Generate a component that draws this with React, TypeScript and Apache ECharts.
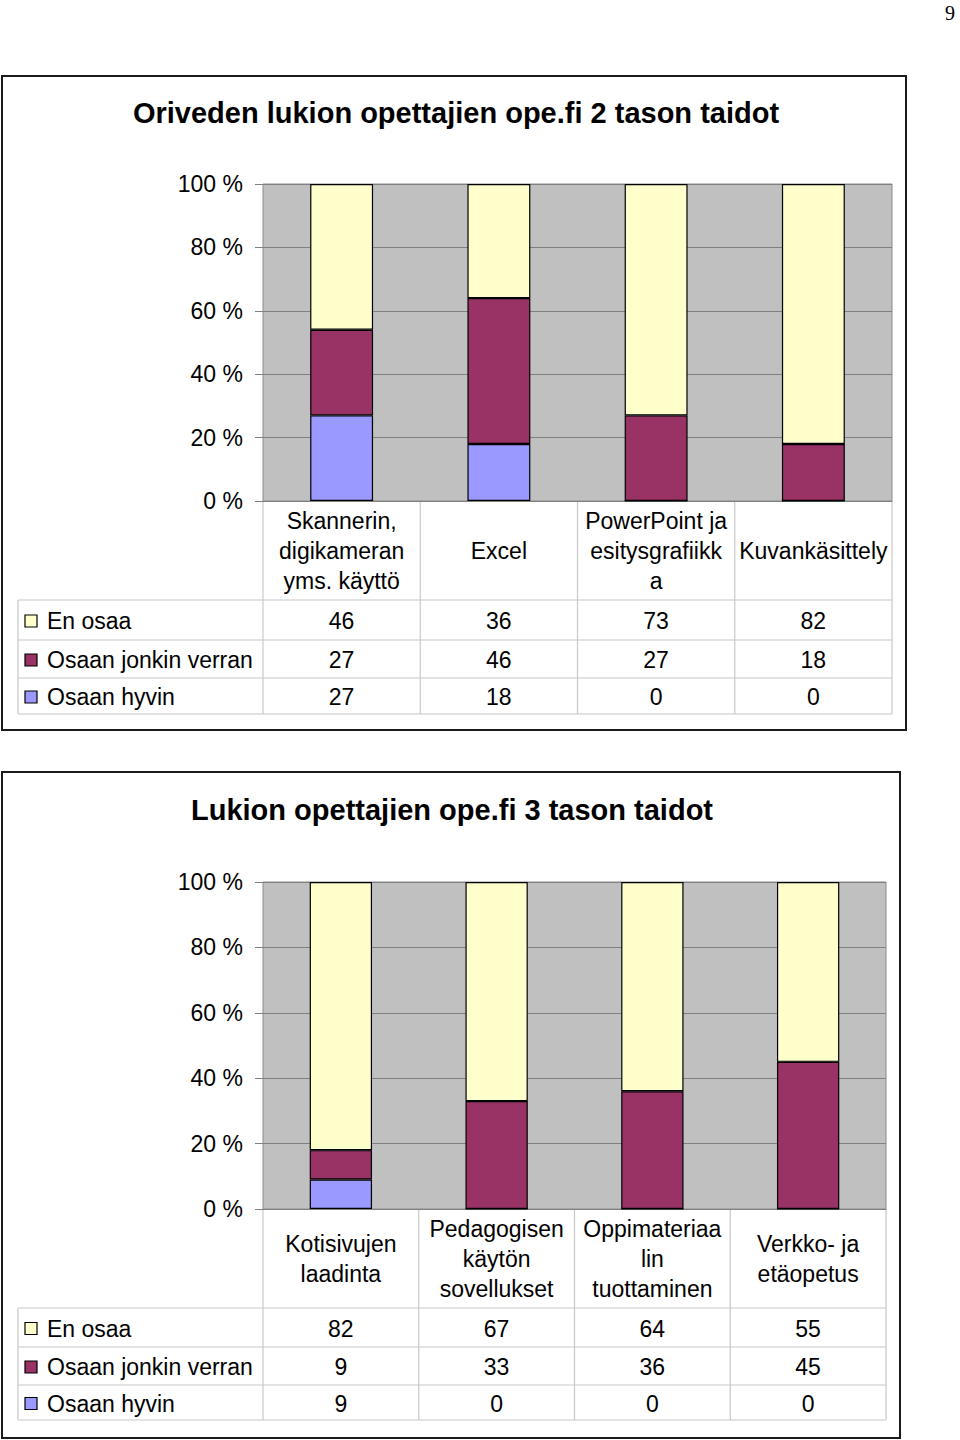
import React, { useEffect, useRef } from "react";
import * as echarts from "echarts";

const FONT = "'Liberation Sans', Arial, Helvetica, sans-serif";

const SERIES_NAMES = ["En osaa", "Osaan jonkin verran", "Osaan hyvin"];
const SERIES_COLORS = ["#FFFFCC", "#993366", "#9999FF"];

// Chart 1
const TITLE_1 = "Oriveden lukion opettajien ope.fi 2 tason taidot";
const CATEGORIES_1 = [
  "Skannerin,\ndigikameran\nyms. käyttö",
  "Excel",
  "PowerPoint ja\nesitysgrafiikk\na",
  "Kuvankäsittely",
];
const EN_OSAA_1 = [46, 36, 73, 82];
const OSAAN_JONKIN_1 = [27, 46, 27, 18];
const OSAAN_HYVIN_1 = [27, 18, 0, 0];

// Chart 2
const TITLE_2 = "Lukion opettajien ope.fi 3 tason taidot";
const CATEGORIES_2 = [
  "Kotisivujen\nlaadinta",
  "Pedagogisen\nkäytön\nsovellukset",
  "Oppimateriaa\nlin\ntuottaminen",
  "Verkko- ja\netäopetus",
];
const EN_OSAA_2 = [82, 67, 64, 55];
const OSAAN_JONKIN_2 = [9, 33, 36, 45];
const OSAAN_HYVIN_2 = [9, 0, 0, 0];

const CHARTS = [
  {
    title: TITLE_1,
    categories: CATEGORIES_1,
    rows: [EN_OSAA_1, OSAAN_JONKIN_1, OSAAN_HYVIN_1],
    grid: { left: 263, top: 184, width: 629, height: 317 },
    box: { x: 2, y: 76, width: 904, height: 654 },
    titlePos: { x: 456, y: 113 },
    rowLines: [600, 640, 678, 714],
  },
  {
    title: TITLE_2,
    categories: CATEGORIES_2,
    rows: [EN_OSAA_2, OSAAN_JONKIN_2, OSAAN_HYVIN_2],
    grid: { left: 263, top: 882, width: 623, height: 327 },
    box: { x: 2, y: 772, width: 898, height: 666 },
    titlePos: { x: 452, y: 810 },
    rowLines: [1308, 1347, 1385, 1420],
  },
];

const TABLE_LEFT = 18;

export default function App() {
  const ref = useRef<HTMLDivElement>(null);

  useEffect(() => {
    if (!ref.current) return;
    const chart = echarts.init(ref.current, null, { renderer: "svg" });

    const grid: any[] = [];
    const xAxis: any[] = [];
    const yAxis: any[] = [];
    const series: any[] = [];

    CHARTS.forEach((c, g) => {
      grid.push({
        ...c.grid,
        show: true,
        backgroundColor: "#C0C0C0",
        borderColor: "#8C8C8C",
        borderWidth: 1,
      });
      xAxis.push({
        type: "category",
        gridIndex: g,
        data: c.categories,
        axisLine: { show: true, lineStyle: { color: "#808080", width: 1 } },
        axisTick: { show: false },
        splitLine: { show: false },
        axisLabel: {
          interval: 0,
          fontSize: 23,
          lineHeight: 30,
          color: "#000",
          fontFamily: FONT,
          verticalAlign: "middle",
          align: "center",
          margin: 50,
        },
      });
      yAxis.push({
        type: "value",
        gridIndex: g,
        min: 0,
        max: 100,
        interval: 20,
        axisLine: { show: false },
        axisTick: { show: true, length: 8, lineStyle: { color: "#808080" } },
        splitLine: { show: true, lineStyle: { color: "#808080", width: 1 } },
        axisLabel: {
          formatter: "{value} %",
          fontSize: 23,
          color: "#000",
          fontFamily: FONT,
          margin: 20,
        },
      });
      // stack from bottom: Osaan hyvin, Osaan jonkin verran, En osaa
      [2, 1, 0].forEach((r) => {
        series.push({
          type: "bar",
          name: SERIES_NAMES[r],
          xAxisIndex: g,
          yAxisIndex: g,
          stack: "s" + g,
          data: c.rows[r],
          barWidth: "40%",
          itemStyle: {
            color: SERIES_COLORS[r],
            borderColor: "#000",
            borderWidth: 1.2,
          },
        });
      });
    });

    chart.setOption({ animation: false, grid, xAxis, yAxis, series });

    const graphics: any[] = [];
    graphics.push({
      type: "text",
      x: 950,
      y: 13,
      style: {
        text: "9",
        fontSize: 20,
        fontFamily: "'Liberation Serif', 'DejaVu Serif', serif",
        fill: "#000",
        align: "center",
        verticalAlign: "middle",
      },
    });

    CHARTS.forEach((c, g) => {
      graphics.push({
        type: "rect",
        shape: { ...c.box },
        style: { fill: "none", stroke: "#1a1a1a", lineWidth: 2 },
      });
      graphics.push({
        type: "text",
        x: c.titlePos.x,
        y: c.titlePos.y,
        style: {
          text: c.title,
          fontSize: 29,
          fontWeight: "bold",
          fontFamily: FONT,
          fill: "#000",
          align: "center",
          verticalAlign: "middle",
        },
      });

      const centers = c.categories.map(
        (_, i) => (chart.convertToPixel({ gridIndex: g } as any, [i, 0]) as number[])[0]
      );
      const band = centers[1] - centers[0];
      const bounds = [centers[0] - band / 2, ...centers.map((x) => x + band / 2)];
      const plotBottom = (chart.convertToPixel({ gridIndex: g } as any, [0, 0]) as number[])[1];
      const right = bounds[bounds.length - 1];
      const lastY = c.rowLines[c.rowLines.length - 1];
      const lineStyle = { stroke: "#C8C8C8", lineWidth: 1.2 };

      c.rowLines.forEach((y) => {
        graphics.push({
          type: "line",
          shape: { x1: TABLE_LEFT, y1: y, x2: right, y2: y },
          style: lineStyle,
        });
      });
      bounds.forEach((x) => {
        graphics.push({
          type: "line",
          shape: { x1: x, y1: plotBottom, x2: x, y2: lastY },
          style: lineStyle,
        });
      });
      graphics.push({
        type: "line",
        shape: { x1: TABLE_LEFT, y1: c.rowLines[0], x2: TABLE_LEFT, y2: lastY },
        style: lineStyle,
      });

      c.rows.forEach((vals, r) => {
        const yc = (c.rowLines[r] + c.rowLines[r + 1]) / 2 + 1;
        graphics.push({
          type: "rect",
          shape: { x: 25, y: yc - 6, width: 12, height: 12 },
          style: { fill: SERIES_COLORS[r], stroke: "#000", lineWidth: 1.2 },
        });
        graphics.push({
          type: "text",
          x: 47,
          y: yc,
          style: {
            text: SERIES_NAMES[r],
            fontSize: 23,
            fontFamily: FONT,
            fill: "#000",
            align: "left",
            verticalAlign: "middle",
          },
        });
        vals.forEach((v, i) => {
          graphics.push({
            type: "text",
            x: centers[i],
            y: yc,
            style: {
              text: String(v),
              fontSize: 23,
              fontFamily: FONT,
              fill: "#000",
              align: "center",
              verticalAlign: "middle",
            },
          });
        });
      });
    });

    chart.setOption({ graphic: graphics });

    return () => chart.dispose();
  }, []);

  return (
    <div
      ref={ref}
      style={{ position: "absolute", left: 0, top: 0, width: 960, height: 1440 }}
    />
  );
}
